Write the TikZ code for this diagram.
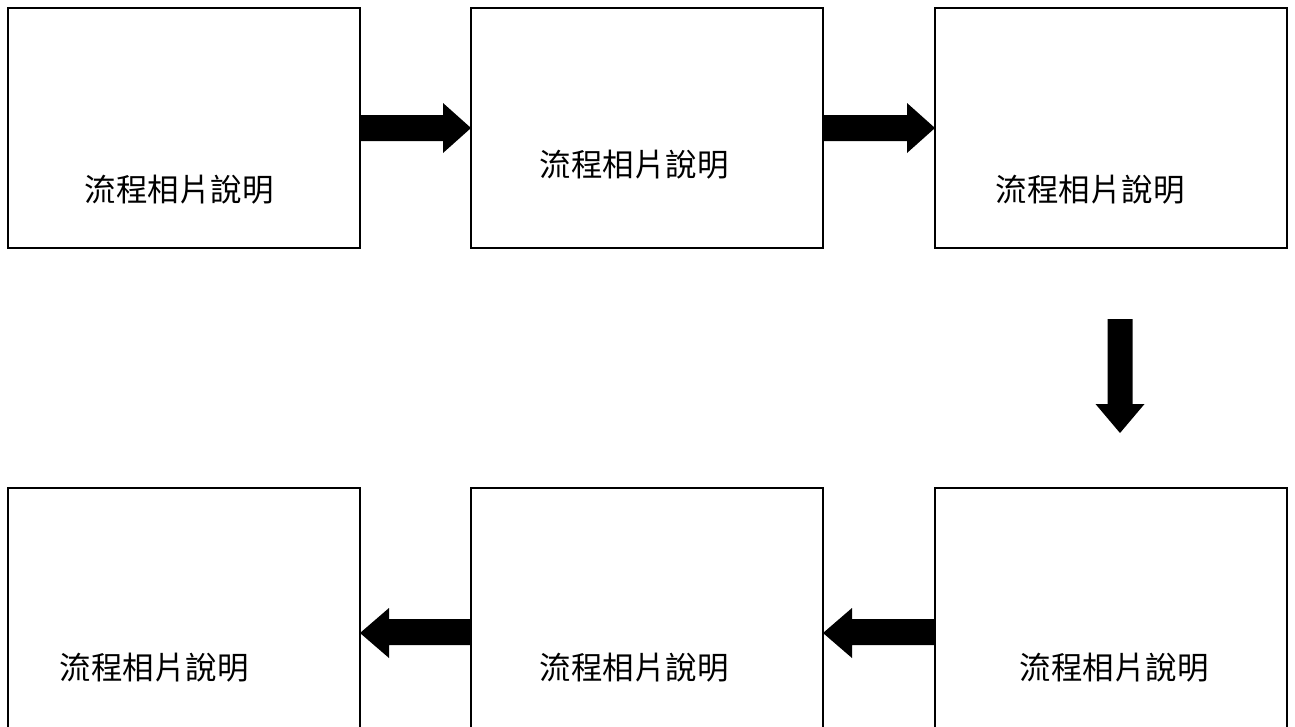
\documentclass[tikz,border=0pt]{standalone}
\usepackage{fontspec}
\newfontfamily\cjk{Noto Sans CJK TC}
\usetikzlibrary{calc}
\begin{document}
\begin{tikzpicture}[x=1pt,y=-1pt,
  box/.style={draw, line width=1.5pt, minimum width=352pt, minimum height=240pt, anchor=north west, inner sep=0pt, outer sep=0pt},
  lowbox/.style={box, minimum height=244pt},
  lbl/.style={font=\cjk\fontsize{31.5}{36}\selectfont, inner sep=0pt},
  blk/.style={fill=black, draw=none}]
\useasboundingbox (0,0) rectangle (1295,726);
\node[box] (b1) at (8,8) {};
\node[box] (b2) at (471,8) {};
\node[box] (b3) at (935,8) {};
\node[lowbox] (b4) at (8,488) {};
\node[lowbox] (b5) at (471,488) {};
\node[lowbox] (b6) at (935,488) {};
\node[lbl] (t1) at (179,190) {流程相片說明};
\node[lbl] (t2) at (634,165) {流程相片說明};
\node[lbl] (t3) at (1090,190) {流程相片說明};
\node[lbl] (t4) at (154,668) {流程相片說明};
\node[lbl] (t5) at (634,668) {流程相片說明};
\node[lbl] (t6) at (1114,668) {流程相片說明};
% right arrows
\fill[blk] ($(b1.north east)+(0,107)$) -- ($(b2.north west)+(-28,107)$) -- ($(b2.north west)+(-28,95)$) -- ($(b2.north west)+(0,120)$) -- ($(b2.north west)+(-28,145)$) -- ($(b2.north west)+(-28,133)$) -- ($(b1.north east)+(0,133)$) -- cycle;
\fill[blk] ($(b2.north east)+(0,107)$) -- ($(b3.north west)+(-28,107)$) -- ($(b3.north west)+(-28,95)$) -- ($(b3.north west)+(0,120)$) -- ($(b3.north west)+(-28,145)$) -- ($(b3.north west)+(-28,133)$) -- ($(b2.north east)+(0,133)$) -- cycle;
% down arrow
\coordinate (d1) at (1120,319);
\coordinate (d2) at (1120,433);
\fill[blk] ($(d1)+(-12.5,0)$) -- ($(d1)+(12.5,0)$) -- ($(d2)+(12.5,-29)$) -- ($(d2)+(24.5,-29)$) -- (d2) -- ($(d2)+(-24.5,-29)$) -- ($(d2)+(-12.5,-29)$) -- cycle;
% left arrows
\fill[blk] ($(b6.north west)+(0,131)$) -- ($(b5.north east)+(29,131)$) -- ($(b5.north east)+(29,120)$) -- ($(b5.north east)+(0,145)$) -- ($(b5.north east)+(29,170)$) -- ($(b5.north east)+(29,157)$) -- ($(b6.north west)+(0,157)$) -- cycle;
\fill[blk] ($(b5.north west)+(0,131)$) -- ($(b4.north east)+(29,131)$) -- ($(b4.north east)+(29,120)$) -- ($(b4.north east)+(0,145)$) -- ($(b4.north east)+(29,170)$) -- ($(b4.north east)+(29,157)$) -- ($(b5.north west)+(0,157)$) -- cycle;
\end{tikzpicture}
\end{document}
